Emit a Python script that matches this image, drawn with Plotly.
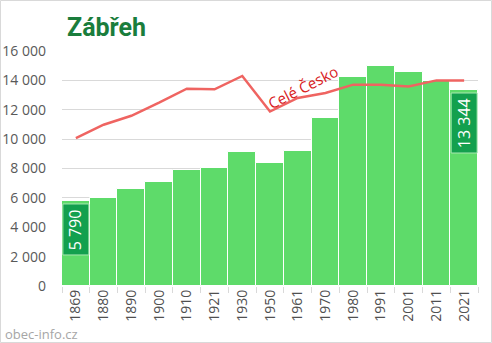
import plotly.graph_objects as go

# Census years, town population and the national trend rescaled to the town
years = ["1869", "1880", "1890", "1900", "1910", "1921", "1930", "1950",
         "1961", "1970", "1980", "1991", "2001", "2011", "2021"]
population = [5790, 5970, 6590, 7110, 7900, 8060, 9090, 8400,
              9220, 11430, 14210, 15000, 14550, 13980, 13344]
czechia_scaled = [10070, 10980, 11590, 12480, 13430, 13390, 14300, 11880,
                  12800, 13140, 13710, 13710, 13590, 14000, 14000]

title_text = "Zábřeh"
line_label = "Celé Česko"
source_text = "obec-info.cz"

W, H = 492, 343
ML, MR, MT, MB = 62, 14, 51, 57
PW, PH = W - ML - MR, H - MT - MB

BAR_GREEN = "#5edb6a"
DARK_GREEN = "#13a04e"
LINE_RED = "#ef6461"
GRID = "#d9d9d9"
FONT = "Open Sans"

fig = go.Figure()

fig.add_trace(go.Bar(
    x=years, y=population, width=1,
    marker=dict(color=BAR_GREEN, line=dict(color="white", width=1)),
    hoverinfo="skip",
))

fig.add_trace(go.Scatter(
    x=years, y=czechia_scaled, mode="lines",
    line=dict(color=LINE_RED, width=2.5),
    hoverinfo="skip",
))


def fmt(v):
    return f"{v:,}".replace(",", " ")


shapes = []
annotations = []

# Value boxes on the first and the latest census bar (x given as category index)
for idx in (0, len(years) - 1):
    label = fmt(population[idx])
    box_h = 9 * len(label) + 6
    shapes.append(dict(
        type="rect", xref="x", yref="y",
        xsizemode="pixel", ysizemode="pixel",
        xanchor=idx, yanchor=population[idx],
        x0=-13, x1=13, y0=-3, y1=-3 - box_h,
        fillcolor=DARK_GREEN, line=dict(color="#a8e8b0", width=1),
        layer="above",
    ))
    annotations.append(dict(
        x=idx, y=population[idx], xref="x", yref="y",
        text=label, showarrow=False, textangle=-90,
        xanchor="center", yanchor="middle",
        yshift=-3 - box_h / 2,
        font=dict(family=FONT, size=16, color="white"),
    ))

# National trend label
annotations.append(dict(
    x=(303 - ML) / PW, y=(MT + PH - 87) / PH, xref="paper", yref="paper",
    text=line_label, showarrow=False, textangle=-27,
    xanchor="center", yanchor="middle",
    font=dict(family=FONT, size=15, color="#d8201c"),
))

# Source note
annotations.append(dict(
    x=(3 - ML) / PW, y=-(334 - MT - PH) / PH, xref="paper", yref="paper",
    text=source_text, showarrow=False, xanchor="left", yanchor="middle",
    font=dict(family=FONT, size=13, color="#a6a6a6"),
))

# Thin frame around the whole chart
shapes.append(dict(
    type="rect", xref="paper", yref="paper",
    x0=-(ML - 0.5) / PW, x1=(PW + MR - 0.5) / PW,
    y0=-(MB - 0.5) / PH, y1=(PH + MT - 0.5) / PH,
    line=dict(color=GRID, width=1), fillcolor="rgba(0,0,0,0)",
    layer="below",
))

fig.update_layout(
    width=W, height=H,
    margin=dict(l=ML, r=MR, t=MT, b=MB, pad=0, autoexpand=False),
    paper_bgcolor="white", plot_bgcolor="white",
    showlegend=False, bargap=0,
    separators=", ",
    title=dict(
        text=title_text, x=67 / W, xanchor="left", xref="container",
        y=1 - 27 / H, yanchor="middle", yref="container",
        font=dict(family="Roboto", size=25, color="#1a7d3c", weight="bold"),
    ),
    xaxis=dict(
        type="category", tickangle=-90, showgrid=False, zeroline=False,
        ticks="outside", tickson="boundaries", ticklen=6, tickcolor=GRID,
        showline=False, automargin=False,
        tickfont=dict(family=FONT, size=14, color="#505050"),
        range=[-0.5, len(years) - 0.5],
    ),
    yaxis=dict(
        range=[0, 16000], dtick=2000, tickformat=",d",
        showgrid=True, gridcolor=GRID, gridwidth=1, zeroline=False,
        showline=False, ticks="", ticklabelstandoff=15, automargin=False,
        tickfont=dict(family=FONT, size=14, color="#595959"),
    ),
    shapes=shapes,
    annotations=annotations,
)

fig.write_html("out.html")
